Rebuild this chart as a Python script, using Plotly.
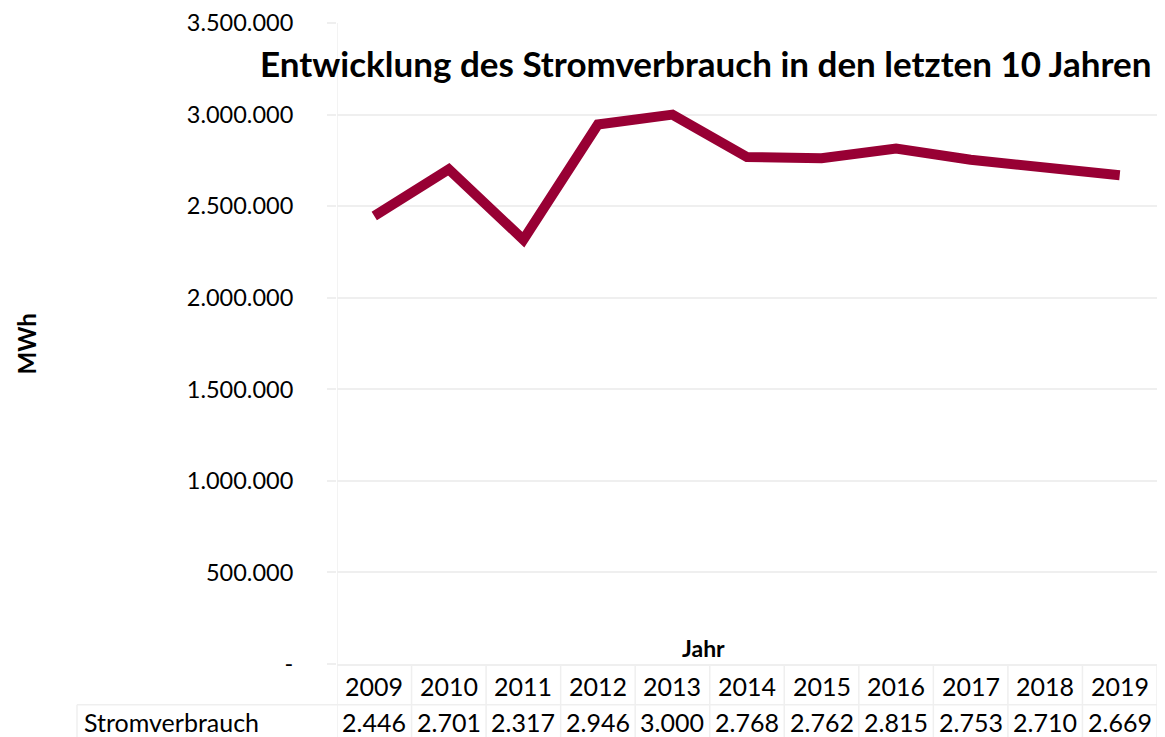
import plotly.graph_objects as go

years = [2009, 2010, 2011, 2012, 2013, 2014, 2015, 2016, 2017, 2018, 2019]
consumption_mwh = [2446000, 2701000, 2317000, 2946000, 3000000, 2768000,
                   2762000, 2815000, 2753000, 2710000, 2669000]
y_ticks = [0, 500000, 1000000, 1500000, 2000000, 2500000, 3000000, 3500000]
series_name = "Stromverbrauch"
title_text = "Entwicklung des Stromverbrauch in den letzten 10 Jahren"

FONT = "Lato, sans-serif"
GRID = "#efefef"
LINE_COLOR = "#980034"

W, H = 1165, 737
ML, MR, MT, MB = 337, 8, 18, 73
PW, PH = W - ML - MR, H - MT - MB


def de_fmt(v):
    if v == 0:
        return "-"
    return f"{v:,.0f}".replace(",", ".")


def table_fmt(v):
    return f"{v / 1e6:.3f}"


def px_to_paper_y(py):
    return (H - MB - py) / PH


def px_to_paper_x(px):
    return (px - ML) / PW


fig = go.Figure()
fig.add_trace(go.Scatter(
    x=years, y=consumption_mwh, mode="lines", name=series_name,
    line=dict(color=LINE_COLOR, width=10), showlegend=False,
))

annotations = []
shapes = []

row1_y = px_to_paper_y(686)
row2_y = px_to_paper_y(722)
sep_y = px_to_paper_y(705)
TF = dict(size=25, color="#000000", family=FONT)
for yr, v in zip(years, consumption_mwh):
    annotations.append(dict(x=yr, y=row1_y, xref="x", yref="paper", text=str(yr),
                            xanchor="center", yanchor="middle", showarrow=False, font=TF))
    annotations.append(dict(x=yr, y=row2_y, xref="x", yref="paper", text=table_fmt(v),
                            xanchor="center", yanchor="middle", showarrow=False, font=TF))

annotations.append(dict(x=px_to_paper_x(82), y=row2_y, xref="paper", yref="paper",
                        text=series_name, xanchor="left", yanchor="middle",
                        showarrow=False, font=TF))

for i in range(len(years) + 1):
    xb = years[0] - 0.5 + i
    y_top = 1 if i == 0 else 0
    shapes.append(dict(type="line", xref="x", yref="paper", x0=xb, x1=xb,
                       y0=y_top, y1=px_to_paper_y(H + 5), line=dict(color=GRID, width=1.5)))
shapes.append(dict(type="line", xref="paper", yref="paper", x0=px_to_paper_x(77), x1=1,
                   y0=sep_y, y1=sep_y, line=dict(color=GRID, width=1.5)))
shapes.append(dict(type="line", xref="paper", yref="paper", x0=px_to_paper_x(77), x1=px_to_paper_x(77),
                   y0=sep_y, y1=px_to_paper_y(H + 5), line=dict(color=GRID, width=1.5)))

annotations.append(dict(x=px_to_paper_x(705), y=px_to_paper_y(58), xref="paper", yref="paper",
                        text=f"<b>{title_text}</b>", showarrow=False,
                        xanchor="center", yanchor="middle",
                        font=dict(size=35, color="#000000", family=FONT)))
annotations.append(dict(x=px_to_paper_x(703), y=px_to_paper_y(648), xref="paper", yref="paper",
                        text="<b>Jahr</b>", showarrow=False, xanchor="center", yanchor="middle",
                        font=dict(size=23, color="#000000", family=FONT)))
annotations.append(dict(x=px_to_paper_x(26), y=px_to_paper_y(342), xref="paper", yref="paper",
                        text="<b>MWh</b>", showarrow=False, textangle=-90,
                        xanchor="center", yanchor="middle",
                        font=dict(size=24, color="#000000", family=FONT)))

fig.update_layout(
    width=W, height=H,
    margin=dict(l=ML, r=MR, t=MT, b=MB),
    paper_bgcolor="white", plot_bgcolor="white",
    font=dict(family=FONT, color="#000000"),
    xaxis=dict(range=[years[0] - 0.5, years[-1] + 0.5], showticklabels=False,
               showgrid=False, zeroline=False, showline=True, linecolor=GRID, linewidth=1.5,
               fixedrange=True),
    yaxis=dict(range=[0, 3500000], tickvals=y_ticks, ticktext=[de_fmt(t) for t in y_ticks],
               showgrid=True, gridcolor=GRID, gridwidth=1.5, zeroline=False,
               ticks="outside", ticklen=9, tickcolor=GRID, tickwidth=1.5,
               ticklabelstandoff=29, tickfont=dict(size=23.5, color="#000000", family=FONT),
               showline=False, fixedrange=True),
    annotations=annotations,
    shapes=shapes,
)

fig.write_html("out.html", config={"displayModeBar": False},
               post_script="document.body.style.margin='0';document.body.style.overflow='hidden';")
